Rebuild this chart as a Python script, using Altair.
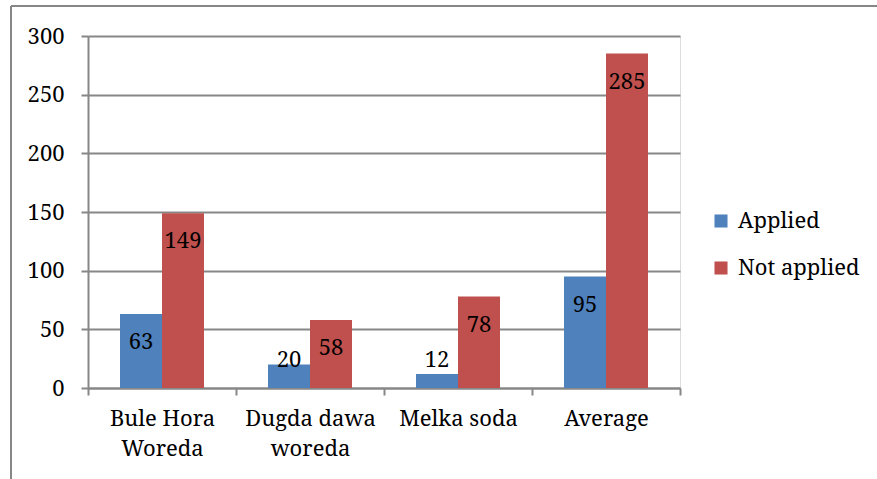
import altair as alt
import pandas as pd

categories = ["Bule Hora\nWoreda", "Dugda dawa\nworeda", "Melka soda", "Average"]
series = ["Applied", "Not applied"]
applied = [63, 20, 12, 95]
not_applied = [149, 58, 78, 285]
colors = ["#4F81BD", "#C0504D"]
y_ticks = [0, 50, 100, 150, 200, 250, 300]

rows = []
for c, a, n in zip(categories, applied, not_applied):
    rows.append({"category": c, "series": series[0], "value": a})
    rows.append({"category": c, "series": series[1], "value": n})
df = pd.DataFrame(rows)

FONT = "Noto Serif"
GRAY = "#878787"
FS = 22

x_enc = alt.X(
    "category:N",
    sort=categories,
    scale=alt.Scale(paddingInner=0, paddingOuter=0),
    axis=alt.Axis(
        title=None, labelAngle=0, labelExpr="split(datum.label, '\\n')",
        tickBand="extent", tickSize=7, tickColor=GRAY, tickWidth=2,
        domainColor=GRAY, domainWidth=2, labelFont=FONT, labelFontSize=FS,
        labelColor="black", labelPadding=13, labelLineHeight=30, grid=False,
    ),
)
xoff = alt.XOffset("series:N", sort=series,
                   scale=alt.Scale(paddingOuter=0.762, paddingInner=0))
y_scale = alt.Scale(domain=[0, 300], nice=False)
y_enc = alt.Y(
    "value:Q", scale=y_scale,
    axis=alt.Axis(
        values=y_ticks, title=None, grid=True, gridColor=GRAY, gridWidth=2,
        domainColor=GRAY, domainWidth=2, tickColor=GRAY, tickWidth=2, tickSize=7,
        labelFont=FONT, labelFontSize=FS, labelColor="black", labelPadding=17,
    ),
)

bars = alt.Chart(df).mark_bar().encode(
    x=x_enc, xOffset=xoff, y=y_enc,
    color=alt.Color(
        "series:N", sort=series,
        scale=alt.Scale(domain=series, range=colors),
        legend=alt.Legend(
            orient="none", legendX=622, legendY=174, title=None,
            symbolType="square", symbolSize=170, symbolStrokeWidth=0,
            labelFont=FONT, labelFontSize=FS, labelColor="black",
            rowPadding=25, labelOffset=6,
        ),
    ),
)

labels = alt.Chart(df).transform_calculate(
    label_y="max(datum.value - 24, 23.5)"
).mark_text(font=FONT, fontSize=FS, baseline="middle", color="black").encode(
    x=x_enc, xOffset=xoff,
    y=alt.Y("label_y:Q", scale=y_scale),
    text="value:Q",
)

one = pd.DataFrame({"k": [0]})
frame_top = alt.Chart(one).mark_rule(color=GRAY, strokeWidth=2).encode(
    x=alt.value(-77), x2=alt.value(800), y=alt.value(-30))
frame_left = alt.Chart(one).mark_rule(color=GRAY, strokeWidth=2).encode(
    x=alt.value(-77), y=alt.value(-30), y2=alt.value(460))

chart = alt.layer(bars, labels, frame_top, frame_left).properties(
    width=592, height=352,
    autosize=alt.AutoSizeParams(type="none"),
    padding={"left": 88, "top": 36, "right": 197, "bottom": 91},
).configure_view(stroke=None).configure(background="white", font=FONT)

chart.save("out.html", embed_options={"renderer": "svg", "actions": False})
